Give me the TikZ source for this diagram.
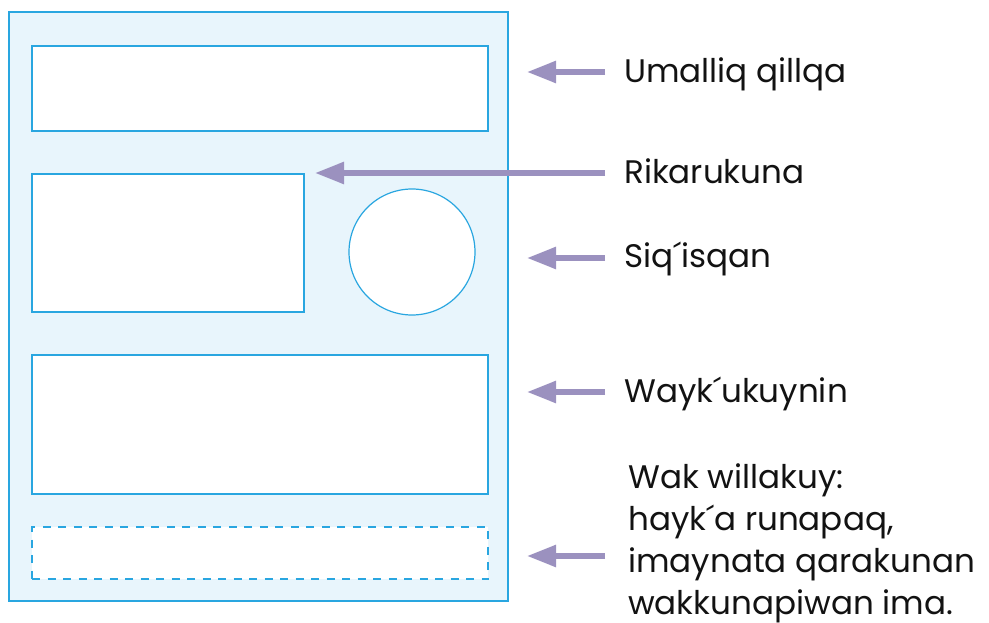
\documentclass[tikz,border=0pt]{standalone}
\usepackage{fontspec}
\setmainfont{Poppins}
\usepackage{tikz}
\usepackage{xcolor}
\usetikzlibrary{arrows.meta,calc}

\definecolor{pageline}{HTML}{29A6E0}
\definecolor{pagefill}{HTML}{E8F5FC}
\definecolor{arrowlilac}{HTML}{9B91BF}

\begin{document}
\begin{tikzpicture}[
          x=1pt, y=-1pt,
          page/.style={draw=pageline, fill=pagefill, line width=1.4pt, inner sep=0pt},
          panel/.style={draw=pageline, fill=white, line width=1.2pt, inner sep=0pt},
          lbl/.style={anchor=base west, inner sep=0pt, font=\fontsize{32.6}{42}\selectfont, text=black!93},
          arr/.style={-{Triangle[length=29pt, width=21pt]}, line width=5.5pt, draw=arrowlilac}
      ]
        \useasboundingbox (0,0) rectangle (989,623);
        % the page and its parts
        \node[page, minimum width=499, minimum height=589] (page) at (258.5,306.5) {};
        \node[panel, minimum width=456, minimum height=85] (title) at (260,88.5) {};
        \node[panel, minimum width=272, minimum height=138] (picture) at (168,243) {};
        \node[panel, circle, minimum size=126] (seal) at (412,252) {};
        \node[panel, minimum width=456, minimum height=139] (body) at (260,424.5) {};
        \node[panel, dashed, dash pattern=on 8pt off 7.5pt, minimum width=456, minimum height=52] (foot) at (260,553) {};
        % labels
        \node[lbl] (umalliq) at (624,82.5) {Umalliq qillqa};
        \node[lbl] (rikarukuna) at (624,183.5) {Rikarukuna};
        \node[lbl] (siqisqan) at (624,268) {Siq´isqan};
        \node[lbl] (waykukuynin) at (624,402) {Wayk´ukuynin};
        \node[lbl, align=left] (wakwillakuy) at (628,614) {Wak willakuy:\\hayk´a runapaq,\\imaynata qarakunan\\wakkunapiwan ima.};
        \coordinate (tipa) at (527,72);
        \coordinate (tipb) at (315,173);
        \coordinate (tipc) at (527,258);
        \coordinate (tipd) at (527,392);
        \coordinate (tipe) at (527,556);
        \draw[arr] ([xshift=-19pt,yshift=10.5pt]umalliq.base west) -- (tipa);
        \draw[arr] ([xshift=-19pt,yshift=10.5pt]rikarukuna.base west) -- (tipb);
        \draw[arr] ([xshift=-19pt,yshift=10pt]siqisqan.base west) -- (tipc);
        \draw[arr] ([xshift=-19pt,yshift=10pt]waykukuynin.base west) -- (tipd);
        \draw[arr] ([xshift=-23pt]wakwillakuy.west |- tipe) -- (tipe);
      \end{tikzpicture}
\end{document}
